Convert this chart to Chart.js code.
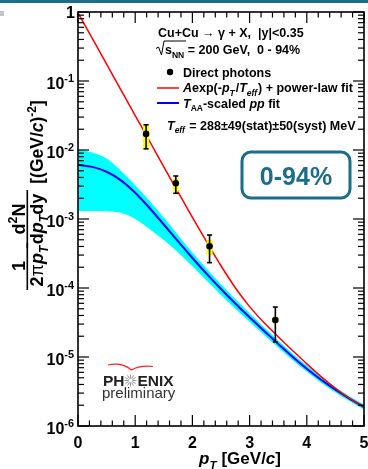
<!DOCTYPE html>
<html>
<head>
<meta charset="utf-8">
<script src="https://cdn.jsdelivr.net/npm/chart.js@4/dist/chart.umd.min.js"></script>
<style>
html, body { margin: 0; padding: 0; background: #fff; }
#wrap { position: relative; width: 368px; height: 469px; }
</style>
</head>
<body>
<div id="wrap"><canvas id="chart"></canvas></div>
<script>
var ptGrid = [0, 0.25, 0.5, 0.75, 1, 1.25, 1.5, 1.75, 2, 2.25, 2.5, 2.75, 3, 3.25, 3.5, 3.75, 4, 4.25, 4.5, 4.75, 5];

// A exp(-pT/Teff) + power-law fit (red)
var expFit = [0.97, 0.415, 0.176, 0.0745, 0.0316, 0.0135, 5.7e-3, 2.45e-3, 1.06e-3, 4.65e-4, 2.1e-4, 1.01e-4, 5.37e-5, 3.16e-5, 1.97e-5, 1.245e-5, 7.94e-6, 5.19e-6, 3.51e-6, 2.51e-6, 1.905e-6];

// TAA-scaled pp fit (blue) and its band (cyan)
var ppFit = [6.1e-3, 5.69e-3, 4.84e-3, 3.63e-3, 2.4e-3, 1.445e-3, 8.32e-4, 4.73e-4, 2.72e-4, 1.6e-4, 9.66e-5, 5.96e-5, 3.76e-5, 2.4e-5, 1.55e-5, 1.01e-5, 6.76e-6, 4.68e-6, 3.35e-6, 2.48e-6, 1.88e-6];
var ppHigh = [1.02e-2, 9.2e-3, 7.5e-3, 5.0e-3, 3.09e-3, 1.84e-3, 1.05e-3, 5.82e-4, 3.27e-4, 1.905e-4, 1.135e-4, 6.92e-5, 4.32e-5, 2.72e-5, 1.74e-5, 1.127e-5, 7.5e-6, 5.15e-6, 3.67e-6, 2.71e-6, 2.05e-6];
var ppLow = [1.31e-3, 1.31e-3, 1.3e-3, 1.23e-3, 1.0e-3, 7.16e-4, 4.95e-4, 3.27e-4, 2.07e-4, 1.27e-4, 7.94e-5, 5.01e-5, 3.24e-5, 2.1e-5, 1.374e-5, 9.06e-6, 6.1e-6, 4.25e-6, 3.05e-6, 2.28e-6, 1.73e-6];

// direct photons
var photonPt = [1.19, 1.71, 2.30, 3.45];
var photonY = [0.0171, 3.29e-3, 4.02e-4, 3.44e-5];
var statHigh = [0.0232, 4.2e-3, 5.86e-4, 5.3e-5];
var statLow = [0.0104, 2.36e-3, 2.33e-4, 1.65e-5];
var systHigh = [0.0238, 3.89e-3, 4.96e-4, 3.84e-5];
var systLow = [0.0100, 2.49e-3, 3.01e-4, 3.08e-5];

// axis ticks
var xTicks = [0, 1, 2, 3, 4, 5];
var yExponents = [0, -1, -2, -3, -4, -5, -6];

var FONT = '"Liberation Sans", Arial, sans-serif';
var TEAL = '#1b6d8c';

function pairs(xs, ys) {
    return xs.map(function(x, i) { return { x: x, y: ys[i] }; });
}

// draws text pieces one after another; flags: i = italic, _ = subscript, ^ = superscript, n = normal weight
function rich(ctx, x, y, segs, size, align) {
    var parts = segs.map(function(s) {
        var f = s[1] || '';
        var sz = (f.indexOf('_') >= 0 || f.indexOf('^') >= 0) ? size * 0.68 : size;
        var font = (f.indexOf('i') >= 0 ? 'italic ' : '') + (f.indexOf('n') >= 0 ? '' : 'bold ') + sz + 'px ' + FONT;
        ctx.font = font;
        var dy = f.indexOf('_') >= 0 ? size * 0.28 : (f.indexOf('^') >= 0 ? -size * 0.42 : 0);
        return { t: s[0], font: font, dy: dy, w: ctx.measureText(s[0]).width + (s[2] || 0) };
    });
    var total = parts.reduce(function(a, p) { return a + p.w; }, 0);
    var cx = align === 'center' ? x - total / 2 : (align === 'right' ? x - total : x);
    ctx.textAlign = 'left';
    ctx.textBaseline = 'alphabetic';
    parts.forEach(function(p) {
        ctx.font = p.font;
        ctx.fillText(p.t, cx, y + p.dy);
        cx += p.w;
    });
    return total;
}

function richUp(ctx, bx, cy, segs, size) {
    ctx.save();
    ctx.translate(bx, cy);
    ctx.rotate(-Math.PI / 2);
    rich(ctx, 0, 0, segs, size, 'center');
    ctx.restore();
}

function line(ctx, x1, y1, x2, y2) {
    ctx.beginPath();
    ctx.moveTo(x1, y1);
    ctx.lineTo(x2, y2);
    ctx.stroke();
}

var errorBars = {
    id: 'errorBars',
    beforeDatasetDraw: function(chart, args) {
        if (args.index !== 4) return;
        var ctx = chart.ctx, xs = chart.scales.x, ys = chart.scales.y;
        ctx.save();
        photonPt.forEach(function(pt, i) {
            var px = xs.getPixelForValue(pt);
            var sh = ys.getPixelForValue(systHigh[i]), sl = ys.getPixelForValue(systLow[i]);
            ctx.fillStyle = '#ffff00';
            ctx.fillRect(px - 3, sh, 6, sl - sh);
            var th = ys.getPixelForValue(statHigh[i]), tl = ys.getPixelForValue(statLow[i]);
            ctx.strokeStyle = '#000';
            ctx.lineWidth = 1.6;
            line(ctx, px, th, px, tl);
            line(ctx, px - 2.5, th, px + 2.5, th);
            line(ctx, px - 2.5, tl, px + 2.5, tl);
        });
        ctx.restore();
    }
};

var decorations = {
    id: 'decorations',
    afterDraw: function(chart) {
        var ctx = chart.ctx, a = chart.chartArea, xs = chart.scales.x, ys = chart.scales.y;
        ctx.save();

        // slide header strip
        ctx.fillStyle = TEAL;
        ctx.fillRect(0, 0, 368, 3);
        ctx.fillStyle = '#c4c4d0';
        ctx.fillRect(0, 11, 4, 5);

        // frame and ticks
        ctx.strokeStyle = '#000';
        ctx.lineWidth = 1.6;
        ctx.strokeRect(a.left, a.top, a.right - a.left, a.bottom - a.top);
        ctx.lineWidth = 1.2;
        for (var i = 0; i <= 25; i++) {
            var px = xs.getPixelForValue(i * 0.2);
            var len = i % 5 === 0 ? 11 : 5.5;
            line(ctx, px, a.bottom, px, a.bottom - len);
            line(ctx, px, a.top, px, a.top + len);
        }
        yExponents.forEach(function(e) {
            var py = ys.getPixelForValue(Math.pow(10, e));
            line(ctx, a.left, py, a.left + 11, py);
            line(ctx, a.right, py, a.right - 11, py);
            if (e === 0) return;
            for (var m = 2; m <= 9; m++) {
                var qy = ys.getPixelForValue(m * Math.pow(10, e));
                line(ctx, a.left, qy, a.left + 6, qy);
                line(ctx, a.right, qy, a.right - 6, qy);
            }
        });

        // tick labels
        ctx.fillStyle = '#000';
        xTicks.forEach(function(v) {
            rich(ctx, xs.getPixelForValue(v), 448, [[String(v)]], 16, 'center');
        });
        yExponents.forEach(function(e) {
            var py = ys.getPixelForValue(Math.pow(10, e));
            if (e === 0) rich(ctx, 75, py + 6, [['1']], 16, 'right');
            else rich(ctx, 74, py + 8, [['10'], [String(e), '^']], 16, 'right');
        });

        // axis titles
        rich(ctx, 240, 464, [['p', 'i'], ['T', 'i_', 5], ['[GeV/'], ['c', 'i'], [']']], 17, 'center');
        richUp(ctx, 25, 266, [['1']], 18);
        richUp(ctx, 43, 266, [['2'], ['\u03c0', 'n'], ['p', 'i'], ['T', 'i_']], 18);
        ctx.fillRect(26.5, 243, 1.6, 47);
        richUp(ctx, 25, 219, [['d'], ['2', '^'], ['N']], 18);
        richUp(ctx, 43, 219, [['d'], ['p', 'i'], ['T', 'i_'], ['dy']], 18);
        ctx.fillRect(26.5, 190, 1.6, 58);
        richUp(ctx, 43, 142, [['[(GeV/'], ['c', 'i'], [')'], ['-2', '^'], [']']], 17.5);

        // header text and legend
        var s = 12.5;
        rich(ctx, 158, 37, [['Cu+Cu '], ['\u2192', 'n'], [' \u03b3 + X,  |y|<0.35']], s, 'left');
        ctx.lineWidth = 1;
        ctx.beginPath();
        ctx.moveTo(156, 48.5); ctx.lineTo(158.5, 47); ctx.lineTo(161.5, 55); ctx.lineTo(164, 41); ctx.lineTo(186, 41);
        ctx.stroke();
        rich(ctx, 165, 54, [['s'], ['NN', '_'], [' = 200 GeV,  0 - 94%']], s, 'left');

        ctx.beginPath();
        ctx.arc(170, 72, 3.2, 0, Math.PI * 2);
        ctx.fill();
        rich(ctx, 183, 76.5, [['Direct photons']], s, 'left');
        ctx.lineWidth = 1.5;
        ctx.strokeStyle = '#ff0000';
        line(ctx, 157, 88, 179, 88);
        ctx.strokeStyle = '#0000ff';
        ctx.lineWidth = 2;
        line(ctx, 157, 103, 179, 103);
        rich(ctx, 183, 92, [['A', 'i'], ['exp(-'], ['p', 'i'], ['T', 'i_', 1], ['/'], ['T', 'i'], ['eff', 'i_', 1], [') + power-law fit']], s, 'left');
        rich(ctx, 183, 107.5, [['T', 'i'], ['AA', '_'], ['-scaled '], ['pp', 'i'], [' fit']], s, 'left');
        rich(ctx, 167, 129.5, [['T', 'i'], ['eff', 'i_', 1], [' = 288\u00b149(stat)\u00b150(syst) MeV']], s, 'left');

        // centrality box
        ctx.strokeStyle = TEAL;
        ctx.lineWidth = 3;
        ctx.beginPath();
        ctx.roundRect(242, 152, 108, 46, 9);
        ctx.stroke();
        ctx.fillStyle = TEAL;
        rich(ctx, 296, 184.5, [['0-94%']], 25, 'center');

        // PHENIX preliminary
        ctx.strokeStyle = '#ff2020';
        ctx.lineWidth = 1.2;
        ctx.beginPath();
        ctx.moveTo(108, 365); ctx.quadraticCurveTo(122, 362, 131.5, 370);
        ctx.moveTo(131.5, 370); ctx.quadraticCurveTo(140, 365, 153, 366.5);
        ctx.stroke();
        ctx.fillStyle = '#222';
        rich(ctx, 103, 386, [['PH']], 15.5, 'left');
        ctx.strokeStyle = '#999';
        ctx.lineWidth = 1;
        for (var k = 0; k < 12; k++) {
            var ang = k * Math.PI / 6;
            line(ctx, 130.5 + Math.cos(ang) * 2, 380.5 + Math.sin(ang) * 2, 130.5 + Math.cos(ang) * 6, 380.5 + Math.sin(ang) * 6);
        }
        rich(ctx, 137.5, 386, [['ENIX']], 15.5, 'left');
        ctx.fillStyle = '#333';
        rich(ctx, 102, 398, [['preliminary', 'n']], 15, 'left');

        ctx.restore();
    }
};

var ctx = document.getElementById('chart').getContext('2d');
var chart = new Chart(ctx, {
    type: 'line',
    data: {
        datasets: [{
            data: pairs(ptGrid, ppHigh),
            borderWidth: 0,
            pointRadius: 0,
            backgroundColor: '#00ffff',
            fill: '+1',
            cubicInterpolationMode: 'monotone',
            order: 4
        }, {
            data: pairs(ptGrid, ppLow),
            borderWidth: 0,
            pointRadius: 0,
            fill: false,
            cubicInterpolationMode: 'monotone',
            order: 3
        }, {
            data: pairs(ptGrid, ppFit),
            borderColor: '#0000ff',
            borderWidth: 2,
            pointRadius: 0,
            fill: false,
            cubicInterpolationMode: 'monotone',
            order: 2
        }, {
            data: pairs(ptGrid, expFit),
            borderColor: '#ff0000',
            borderWidth: 1.5,
            pointRadius: 0,
            fill: false,
            cubicInterpolationMode: 'monotone',
            order: 1
        }, {
            data: pairs(photonPt, photonY),
            showLine: false,
            pointRadius: 3.3,
            pointBackgroundColor: '#000',
            pointBorderWidth: 0,
            order: 0
        }]
    },
    options: {
        responsive: true,
        maintainAspectRatio: false,
        animation: false,
        layout: { padding: { left: 78, right: 4, top: 12, bottom: 43 } },
        plugins: { legend: { display: false }, tooltip: { enabled: false } },
        scales: {
            x: { type: 'linear', min: 0, max: 5, display: false },
            y: { type: 'logarithmic', min: 1e-6, max: 1, display: false }
        }
    },
    plugins: [errorBars, decorations]
});
</script>
</body>
</html>
